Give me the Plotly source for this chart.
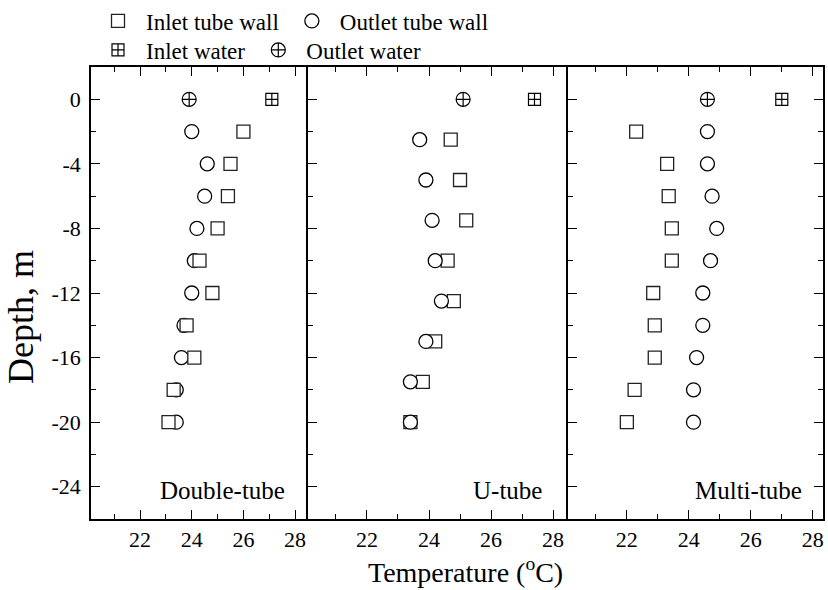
import plotly.graph_objects as go

# ---------------- data ----------------
depth_2m = [-2, -4, -6, -8, -10, -12, -14, -16, -18, -20]
depth_u = [-2.5, -5, -7.5, -10, -12.5, -15, -17.5, -20]
depth_top = [0]

dt_inlet_wall = [26.0, 25.5, 25.4, 25.0, 24.3, 24.8, 23.8, 24.1, 23.3, 23.1]
dt_outlet_wall = [24.0, 24.6, 24.5, 24.2, 24.1, 24.0, 23.7, 23.6, 23.4, 23.4]
dt_inlet_water = [27.1]
dt_outlet_water = [23.9]

ut_inlet_wall = [24.7, 25.0, 25.2, 24.6, 24.8, 24.2, 23.8, 23.4]
ut_outlet_wall = [23.7, 23.9, 24.1, 24.2, 24.4, 23.9, 23.4, 23.4]
ut_inlet_water = [27.4]
ut_outlet_water = [25.1]

mt_inlet_wall = [22.3, 23.3, 23.35, 23.45, 23.45, 22.85, 22.9, 22.9, 22.25, 22.0]
mt_outlet_wall = [24.6, 24.6, 24.75, 24.9, 24.7, 24.45, 24.45, 24.25, 24.15, 24.15]
mt_inlet_water = [27.0]
mt_outlet_water = [24.6]

panel_names = ["Double-tube", "U-tube", "Multi-tube"]
series_names = ["Inlet tube wall", "Outlet tube wall", "Inlet water", "Outlet water"]

x_tick_vals = [22, 24, 26, 28]
x_tick_text = ["22", "24", "26", "28"]
y_tick_vals = [0, -4, -8, -12, -16, -20, -24]
y_tick_text = ["0", "-4", "-8", "-12", "-16", "-20", "-24"]

FONT = "Liberation Serif"

fig = go.Figure()

sq = dict(symbol="square", size=13, color="white", line=dict(color="#222", width=1.3))
ci = dict(symbol="circle", size=14, color="white", line=dict(color="black", width=1.3))
sqx = dict(symbol="square-cross", size=12, color="white", line=dict(color="black", width=1.2))
cix = dict(symbol="circle-cross", size=14, color="white", line=dict(color="black", width=1.2))

def add(x, y, marker, name, xa, ya, show, legend="legend", rank=1):
    fig.add_trace(go.Scatter(x=x, y=y, mode="markers", marker=marker, name=name,
                             xaxis=xa, yaxis=ya, showlegend=show, legend=legend,
                             legendrank=rank, hoverinfo="x+y"))

# panel 1 (squares above circles)
add(dt_outlet_wall, depth_2m, ci, series_names[1], "x", "y", True, "legend", 2)
add(dt_inlet_wall, depth_2m, sq, series_names[0], "x", "y", True, "legend", 1)
add(dt_inlet_water, depth_top, sqx, series_names[2], "x", "y", True, "legend2", 1)
add(dt_outlet_water, depth_top, cix, series_names[3], "x", "y", True, "legend2", 2)
# panel 2 (circles above squares)
add(ut_inlet_wall, depth_u, sq, series_names[0], "x2", "y2", False)
add(ut_outlet_wall, depth_u, ci, series_names[1], "x2", "y2", False)
add(ut_inlet_water, depth_top, sqx, series_names[2], "x2", "y2", False)
add(ut_outlet_water, depth_top, cix, series_names[3], "x2", "y2", False)
# panel 3
add(mt_inlet_wall, depth_2m, sq, series_names[0], "x3", "y3", False)
add(mt_outlet_wall, depth_2m, ci, series_names[1], "x3", "y3", False)
add(mt_inlet_water, depth_top, sqx, series_names[2], "x3", "y3", False)
add(mt_outlet_water, depth_top, cix, series_names[3], "x3", "y3", False)

W, H = 828, 590
L, R, T, B = 91, 5, 67, 71
pw = W - L - R
ph = H - T - B
b1 = (308 - L) / pw
b2 = (568 - L) / pw

xranges = [[20.1, 28.5], [20.1, 28.48], [20.1, 28.33]]
domains = [[0, b1], [b1, b2], [b2, 1]]

def xaxis(i):
    return dict(domain=domains[i], range=xranges[i], anchor=["y", "y2", "y3"][i],
                tickmode="array", tickvals=x_tick_vals, ticktext=x_tick_text,
                ticks="inside", ticklen=9, tickwidth=1.2, tickcolor="black",
                minor=dict(tickmode="linear", tick0=21, dtick=2, ticks="inside",
                           ticklen=5, tickwidth=1.2, tickcolor="black"),
                showline=True, linecolor="black", linewidth=1.5, mirror="ticks",
                showgrid=False, zeroline=False, automargin=False,
                tickfont=dict(family=FONT, size=22, color="black"))

def yaxis(i):
    d = dict(range=[-26, 2], anchor=["x", "x2", "x3"][i], domain=[0, 1],
             tickmode="array", tickvals=y_tick_vals, ticktext=y_tick_text,
             ticks="inside", ticklen=9, tickwidth=1.2, tickcolor="black",
             minor=dict(tickmode="linear", tick0=-2, dtick=4, ticks="inside",
                        ticklen=5, tickwidth=1.2, tickcolor="black"),
             showline=True, linecolor="black", linewidth=1.5,
             mirror="ticks" if i == 2 else False,
             showgrid=False, zeroline=False, showticklabels=(i == 0),
             ticklabelstandoff=4, automargin=False,
             tickfont=dict(family=FONT, size=22, color="black"))
    if i > 0:
        d["matches"] = "y"
    return d

legend_common = dict(orientation="h", xanchor="left", yanchor="middle",
                     font=dict(family=FONT, size=23, color="black"),
                     bgcolor="rgba(0,0,0,0)", itemwidth=46, tracegroupgap=0,
                     x=(90 - L) / pw)

fig.update_layout(
    width=W, height=H,
    margin=dict(l=L, r=R, t=T, b=B, autoexpand=False),
    paper_bgcolor="white", plot_bgcolor="white",
    font=dict(family=FONT, color="black"),
    xaxis=xaxis(0), xaxis2=xaxis(1), xaxis3=xaxis(2),
    yaxis=yaxis(0), yaxis2=yaxis(1), yaxis3=yaxis(2),
    legend=dict(legend_common, y=(519 - 21) / ph),
    legend2=dict(legend_common, y=(519 - 50) / ph),
)

shifts = [-21, -24, -19]
for i, name in enumerate(panel_names):
    fig.add_annotation(text=name, xref=["x domain", "x2 domain", "x3 domain"][i], x=1,
                       xanchor="right", xshift=shifts[i], yref="paper",
                       y=(519 - 490) / ph, yanchor="middle", showarrow=False,
                       font=dict(family=FONT, size=25, color="black"))

fig.add_annotation(text="Temperature (<sup>o</sup>C)", xref="paper", yref="paper",
                   x=(466 - L) / pw, y=(519 - 570) / ph, xanchor="center", yanchor="middle",
                   showarrow=False, font=dict(family=FONT, size=28, color="black"))
fig.add_annotation(text="Depth, m", xref="paper", yref="paper",
                   x=(21 - L) / pw, y=(519 - 317) / ph, xanchor="center", yanchor="middle",
                   textangle=-90, showarrow=False, font=dict(family=FONT, size=36, color="black"))

fig.write_html("out.html", config={"displayModeBar": False},
               post_script="document.body.style.margin='0';document.body.style.overflow='hidden';")
